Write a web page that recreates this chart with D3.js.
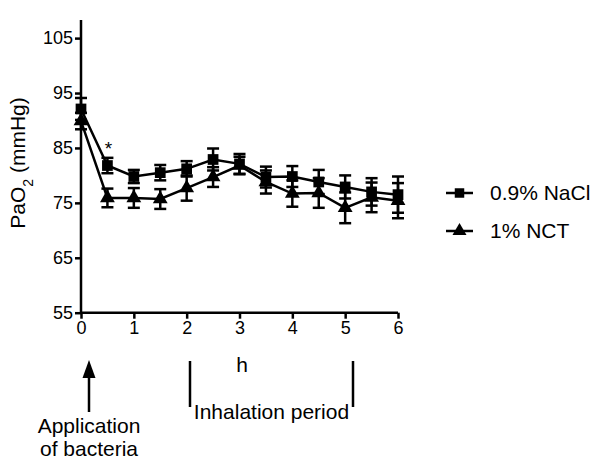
<!DOCTYPE html>
<html><head><meta charset="utf-8">
<script src="https://cdn.jsdelivr.net/npm/d3@7"></script>
<style>body{margin:0;background:#fff}svg{display:block;font-family:"Liberation Sans",Arial,sans-serif}</style>
</head><body><svg id="c" width="600" height="466"></svg>
<script>
const hours = [0,0.5,1,1.5,2,2.5,3,3.5,4,4.5,5,5.5,6];
const naclMean = [92.1,81.8,79.8,80.5,81.2,82.9,82.1,79.7,79.8,78.8,77.9,77.0,76.5];
const naclErr  = [2.0,1.4,1.2,1.4,1.4,2.0,1.8,1.9,1.9,2.2,2.1,2.5,3.3];
const nctMean  = [89.9,75.9,75.9,75.7,77.7,79.7,81.8,78.8,76.7,76.8,74.1,76.0,75.4];
const nctErr   = [1.5,1.7,1.8,1.8,2.3,1.8,1.6,2.1,2.4,2.7,2.8,2.7,3.2];
const xTicks = [0,1,2,3,4,5,6];
const yTicks = [55,65,75,85,95,105];
const seriesNames = ["0.9% NaCl","1% NCT"];

const svg = d3.select("#c");
const x = d3.scaleLinear().domain([0,6]).range([81,398]);
const y = d3.scaleLinear().domain([55,108.3]).range([312.7,20]);

// axes
const yAxis = d3.axisLeft(y).tickValues(yTicks).tickSize(6).tickPadding(2).tickFormat(d3.format("d"));
const gy = svg.append("g").attr("transform","translate(81,0)").call(yAxis);
const xAxis = d3.axisBottom(x).tickValues(xTicks).tickSize(6).tickPadding(3).tickFormat(d3.format("d"));
const gx = svg.append("g").attr("transform","translate(0,312.7)").call(xAxis);
[gy,gx].forEach(g=>{
  g.select(".domain").attr("stroke","#000").attr("stroke-width",2.5);
  g.selectAll(".tick line").attr("stroke","#000").attr("stroke-width",2.5);
  g.selectAll("text").attr("font-size",18).attr("fill","#000").attr("font-family","Liberation Sans, Arial, sans-serif");
});
gy.select(".domain").attr("d","M0,"+y.range()[0]+"V20");
gx.select(".domain").attr("d","M81,0H398");

// y label
svg.append("text").attr("transform","translate(25,163) rotate(-90)")
  .attr("text-anchor","middle").attr("font-size",21)
  .html('PaO<tspan baseline-shift="sub" font-size="14">2</tspan> (mmHg)');

// x label
svg.append("text").attr("x",x(3.05)).attr("y",372).attr("text-anchor","middle").attr("font-size",21).text("h");

function drawSeries(mean, err, shape){
  const g = svg.append("g");
  const data = hours.map((h,i)=>({h, m:mean[i], e:err[i]}));
  g.selectAll("line.eb").data(data).enter().append("line")
    .attr("x1",d=>x(d.h)).attr("x2",d=>x(d.h))
    .attr("y1",d=>y(d.m-d.e)).attr("y2",d=>y(d.m+d.e))
    .attr("stroke","#000").attr("stroke-width",2.5);
  ["-","+"].forEach(s=>{
    g.selectAll("line.cap"+(s==="-"?"a":"b")).data(data).enter().append("line")
      .attr("x1",d=>x(d.h)-6).attr("x2",d=>x(d.h)+6)
      .attr("y1",d=>y(s==="-"?d.m-d.e:d.m+d.e)).attr("y2",d=>y(s==="-"?d.m-d.e:d.m+d.e))
      .attr("stroke","#000").attr("stroke-width",2.5);
  });
  g.append("path").datum(data)
    .attr("d",d3.line().x(d=>x(d.h)).y(d=>y(d.m)))
    .attr("fill","none").attr("stroke","#000").attr("stroke-width",2.5);
  const sym = d3.symbol().type(shape).size(shape===d3.symbolSquare?115:95);
  g.selectAll("path.pt").data(data).enter().append("path")
    .attr("transform",d=>`translate(${x(d.h)},${y(d.m)})`)
    .attr("d",sym).attr("fill","#000");
}
drawSeries(nctMean, nctErr, d3.symbolTriangle);
drawSeries(naclMean, naclErr, d3.symbolSquare);

// asterisk
svg.append("text").attr("x",x(0.5)+1).attr("y",y(naclMean[1]+naclErr[1])-3).attr("text-anchor","middle")
  .attr("font-size",19).text("*");

// legend
const leg = svg.append("g");
[d3.symbolSquare, d3.symbolTriangle].forEach((s,i)=>{
  const yy = 193 + i*38;
  leg.append("line").attr("x1",446).attr("x2",473).attr("y1",yy).attr("y2",yy).attr("stroke","#000").attr("stroke-width",2.5);
  leg.append("path").attr("transform",`translate(459.5,${yy})`).attr("d",d3.symbol().type(s).size(s===d3.symbolSquare?90:85)).attr("fill","#000");
  leg.append("text").attr("x",490).attr("y",yy+7).attr("font-size",21).text(seriesNames[i]);
});

// annotations
const ax = 89;
svg.append("line").attr("x1",ax).attr("x2",ax).attr("y1",372).attr("y2",412).attr("stroke","#000").attr("stroke-width",2.5);
svg.append("path").attr("d",`M${ax},360L${ax-6.5},378L${ax+6.5},378Z`).attr("fill","#000");
svg.append("text").attr("x",ax).attr("y",433).attr("text-anchor","middle").attr("font-size",21).text("Application");
svg.append("text").attr("x",ax).attr("y",456).attr("text-anchor","middle").attr("font-size",21).text("of bacteria");

[190,353].forEach(bx=>{
  svg.append("line").attr("x1",bx).attr("x2",bx).attr("y1",361).attr("y2",407).attr("stroke","#000").attr("stroke-width",2.5);
});
svg.append("text").attr("x",271.5).attr("y",419).attr("text-anchor","middle").attr("font-size",21).text("Inhalation period");
</script></body></html>
